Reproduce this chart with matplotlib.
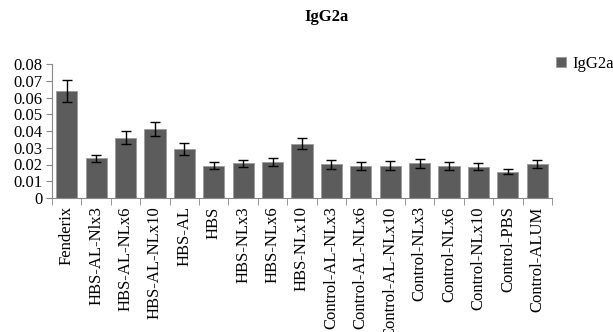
import matplotlib.pyplot as plt
import numpy as np

groups = ["Fenderix", "HBS-AL-Nlx3", "HBS-AL-NLx6", "HBS-AL-NLx10", "HBS-AL",
          "HBS", "HBS-NLx3", "HBS-NLx6", "HBS-NLx10", "Control-AL-NLx3",
          "Control-AL-NLx6", "Control-AL-NLx10", "Control-NLx3", "Control-NLx6",
          "Control-NLx10", "Control-PBS", "Control-ALUM"]
igg2a = [0.064, 0.0236, 0.036, 0.0412, 0.0292, 0.0192, 0.0206, 0.0216, 0.0324,
         0.0202, 0.0192, 0.0192, 0.0206, 0.0192, 0.0188, 0.0158, 0.0202]
err = [0.0065, 0.0022, 0.004, 0.004, 0.0035, 0.002, 0.0018, 0.0024, 0.0033,
       0.0027, 0.0023, 0.0027, 0.0027, 0.0025, 0.0021, 0.0016, 0.0022]

plt.rcParams['font.family'] = ['Liberation Serif', 'DejaVu Serif']

fig = plt.figure(figsize=(6.13, 3.32), dpi=100)
ax = fig.add_axes([52/613, 1 - 198/332, 500/613, 134/332])

x = np.arange(len(groups))
ax.bar(x, igg2a, width=0.72, color='#5c5c5c', edgecolor='#9a9a9a', linewidth=0.6,
       label='IgG2a', zorder=2)
ax.errorbar(x, igg2a, yerr=err, fmt='none', ecolor='black', elinewidth=1.0,
            capsize=3.5, capthick=1.0, zorder=3)

ax.set_xlim(-0.5, len(groups) - 0.5)
ax.set_ylim(0, 0.08)
ax.set_yticks(np.arange(0, 0.081, 0.01))
ax.set_yticklabels(['0'] + ['%.2f' % v for v in np.arange(0.01, 0.081, 0.01)], fontsize=12)
ax.set_xticks(x)
ax.set_xticklabels(groups, rotation=90, fontsize=12)
ax.set_xticks(np.arange(-0.5, len(groups), 1), minor=True)
ax.tick_params(axis='x', which='major', length=0, pad=6)
ax.tick_params(axis='x', which='minor', length=5, color='#888888', direction='out')
ax.tick_params(axis='y', length=4, color='#888888', pad=3)

for s in ['top', 'right']:
    ax.spines[s].set_visible(False)
for s in ['left', 'bottom']:
    ax.spines[s].set_color('#888888')
    ax.spines[s].set_linewidth(0.8)

fig.text(327/613, 1 - 17/332, 'IgG2a', ha='center', va='center', fontsize=12, fontweight='bold')
fig.legend(loc='upper left', bbox_to_anchor=(556/613, 1 - 56/332), frameon=False,
           fontsize=12, handlelength=0.6, handleheight=0.6, handletextpad=0.4,
           borderpad=0, borderaxespad=0)

fig.savefig('out.png', dpi=100)
